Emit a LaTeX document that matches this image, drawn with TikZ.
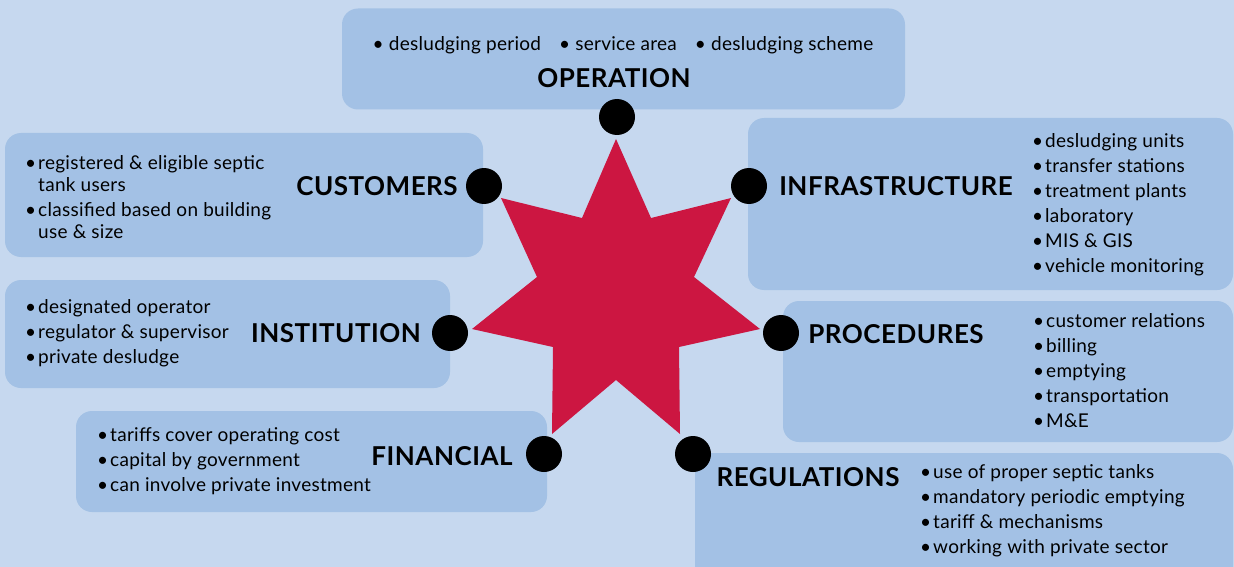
\documentclass[tikz,border=0pt]{standalone}
\usepackage{fontspec}
\setmainfont{Lato}
\definecolor{bgblue}{HTML}{C6D8EF}
\definecolor{boxblue}{HTML}{A3C1E5}
\definecolor{starred}{HTML}{CC1641}
\tikzset{
  panel/.style={fill=boxblue, draw=none, rounded corners=16pt, inner sep=0pt},
  head/.style={font=\fontsize{26}{28}\selectfont\bfseries\addfontfeature{LetterSpace=2}, inner sep=0pt, text=black},
  items/.style={font=\fontsize{19}{25}\selectfont\addfontfeature{LetterSpace=1.5}, inner sep=0pt, align=left, anchor=west, text=black},
  dot/.style={circle, fill=black, minimum size=36pt, inner sep=0pt},
}
\newcommand{\bul}{\makebox[13pt][l]{•}}
\newcommand{\nob}{\makebox[13pt][l]{}}
\begin{document}
\begin{tikzpicture}[x=1pt, y=-1pt]
\useasboundingbox (0,0) rectangle (1234,567);
\clip (0,0) rectangle (1234,567);
\fill[bgblue] (0,0) rectangle (1234,567);
% panels
\node[panel, minimum width=563pt, minimum height=101pt] (opbox) at (623.5,59) {};
\node[panel, minimum width=478pt, minimum height=124pt] (cubox) at (244,195) {};
\node[panel, minimum width=485pt, minimum height=172pt] (inbox) at (990.5,204) {};
\node[panel, minimum width=445pt, minimum height=108pt] (isbox) at (227.5,334) {};
\node[panel, minimum width=450pt, minimum height=141pt] (prbox) at (1008,371.5) {};
\node[panel, minimum width=471pt, minimum height=101pt] (fibox) at (311.5,461.5) {};
\node[panel, minimum width=538pt, minimum height=150pt] (rebox) at (964,528) {};
% star
\fill[starred] (616,139) -- (651,218) -- (731,198) -- (694,277) -- (760,329) -- (679,347)
  -- (680,434) -- (616,380) -- (552,434) -- (553,347) -- (472,329) -- (537,277)
  -- (501,198) -- (582,218) -- cycle;
% dots
\node[dot] (dop) at (617,117) {};
\node[dot] (dcu) at (484,186) {};
\node[dot] (din) at (749,186) {};
\node[dot] (dis) at (450,333) {};
\node[dot] (dpr) at (781,333) {};
\node[dot] (dfi) at (544,454) {};
\node[dot] (dre) at (693,454) {};
% headings
\node[head] (hop) at (614,78) {OPERATION};
\node[head] (hcu) at (377,186) {CUSTOMERS};
\node[head] (hin) at (896,186) {INFRASTRUCTURE};
\node[head] (his) at (336,333) {INSTITUTION};
\node[head] (hpr) at (896,334) {PROCEDURES};
\node[head] (hfi) at (442,456) {FINANCIAL};
\node[head] (hre) at (808,477) {REGULATIONS};
% lists
\node[items, anchor=center] (lop) at (623,45) {• desludging period\hspace{18pt}• service area\hspace{18pt}• desludging scheme};
\node[items, font=\fontsize{19}{22}\selectfont\addfontfeature{LetterSpace=1.5}] (lcu) at (25,197) {\bul registered \& eligible septic\\ \nob tank users\\[3pt] \bul classified based on building\\ \nob use \& size};
\node[items] (lin) at (1032,204.5) {\bul desludging units\\ \bul transfer stations\\ \bul treatment plants\\ \bul laboratory\\ \bul MIS \& GIS\\ \bul vehicle monitoring};
\node[items] (lis) at (25,333.5) {\bul designated operator\\ \bul regulator \& supervisor\\ \bul private desludge};
\node[items] (lpr) at (1033,371) {\bul customer relations\\ \bul billing\\ \bul emptying\\ \bul transportation\\ \bul M\&E};
\node[items] (lfi) at (97,461) {\bul tariffs cover operating cost\\ \bul capital by government\\ \bul can involve private investment};
\node[items] (lre) at (920,510.5) {\bul use of proper septic tanks\\ \bul mandatory periodic emptying\\ \bul tariff \& mechanisms\\ \bul working with private sector};
\end{tikzpicture}
\end{document}
